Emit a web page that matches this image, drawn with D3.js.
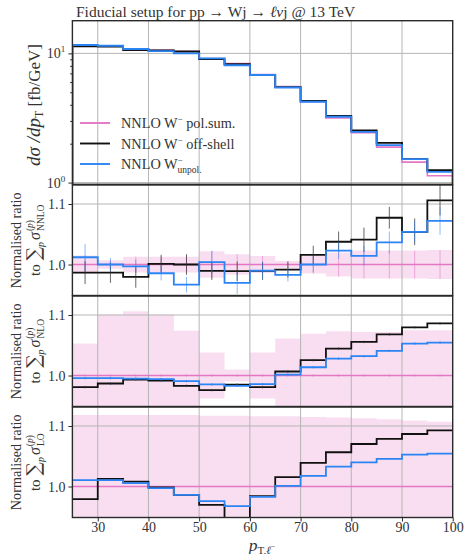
<!DOCTYPE html>
<html><head><meta charset="utf-8">
<script src="https://cdn.jsdelivr.net/npm/d3@7"></script>
<style>
html,body{margin:0;padding:0;background:#fff;}
svg{display:block;font-family:"Liberation Serif","DejaVu Serif",serif;}
</style></head><body>
<svg id="chart" width="465" height="554"></svg>
<script>
// Bin edges of the lepton transverse-momentum histogram (GeV)
const binEdges = [25, 30, 35, 40, 45, 50, 55, 60, 65, 70, 75, 80, 85, 90, 95, 100];
const xTicks = [30, 40, 50, 60, 70, 80, 90, 100];
const topTicks = [1, 10];
const topMinorTicks = [2, 3, 4, 5, 6, 7, 8, 9];
const ratioTicks = [1.0, 1.1];

// Differential cross sections dσ/dpT [fb/GeV]
const distPolSum   = [11.46, 11.45, 10.83, 10.55, 10.34, 9.11, 8.35, 6.87, 5.54, 4.22, 3.16, 2.43, 1.88, 1.44, 1.13];
const distOffShell = [11.31, 11.30, 10.61, 10.56, 10.34, 9.01, 8.26, 6.80, 5.49, 4.29, 3.28, 2.53, 2.03, 1.52, 1.25];
const distUnpol    = [11.60, 11.45, 10.80, 10.40, 10.00, 9.15, 8.10, 6.80, 5.45, 4.22, 3.23, 2.47, 1.95, 1.52, 1.21];

// Reference line (pol. sum normalised to itself)
const polSumRatio = [1, 1, 1, 1, 1, 1, 1, 1, 1, 1, 1, 1, 1, 1, 1];

// Ratios to the NNLO polarisation sum
const nnloOffShell    = [0.9867, 0.9867, 0.9796, 1.001, 1.000, 0.9895, 0.989, 0.9895, 0.9917, 1.016, 1.0376, 1.041, 1.0773, 1.054, 1.106];
const nnloUnpol       = [1.012, 1.000, 0.997, 0.9856, 0.9669, 1.004, 0.9696, 0.990, 0.983, 1.000, 1.023, 1.0144, 1.0365, 1.054, 1.072];
const nnloPolErr      = [0.015, 0.007, 0.013, 0.013, 0.013, 0.022, 0.017, 0.014, 0.006, 0.015, 0.020, 0.023, 0.023, 0.023, 0.024];
const nnloOffShellErr = [0.019, 0.017, 0.018, 0.015, 0.017, 0.015, 0.016, 0.015, 0.013, 0.015, 0.017, 0.020, 0.018, 0.022, 0.025];
const nnloUnpolErr    = [0.022, 0.011, 0.011, 0.012, 0.013, 0.019, 0.018, 0.014, 0.011, 0.013, 0.014, 0.016, 0.018, 0.017, 0.023];

// Ratios to the NLO polarisation sum
const nloOffShell = [0.9808, 0.9868, 0.9934, 0.9918, 0.983, 0.9758, 0.985, 0.9808, 1.0066, 1.0253, 1.0445, 1.0555, 1.068, 1.0797, 1.0863];
const nloUnpol    = [0.9956, 0.9956, 0.995, 0.994, 0.9907, 0.9852, 0.983, 0.9857, 1.0016, 1.0137, 1.028, 1.0319, 1.0407, 1.0527, 1.0544];
const nloPolErr   = [0.053, 0.101, 0.106, 0.101, 0.074, 0.038, 0.010, 0.038, 0.061, 0.069, 0.073, 0.072, 0.072, 0.075, 0.075];
const nloStatErr  = [0.002, 0.002, 0.002, 0.002, 0.002, 0.002, 0.002, 0.002, 0.002, 0.002, 0.002, 0.002, 0.002, 0.002, 0.002];

// Ratios to the LO polarisation sum
const loOffShell = [0.9791, 1.0126, 1.0082, 0.9984, 0.9863, 0.9698, 0.940, 0.984, 1.0154, 1.039, 1.0566, 1.0703, 1.0786, 1.0868, 1.0929];
const loUnpol    = [1.0104, 1.0104, 1.0055, 0.9973, 0.9863, 0.9758, 0.9676, 0.983, 1.001, 1.0176, 1.033, 1.040, 1.0456, 1.0527, 1.0544];
const loPolErr   = [0.118, 0.118, 0.118, 0.118, 0.118, 0.117, 0.117, 0.116, 0.116, 0.115, 0.114, 0.113, 0.111, 0.109, 0.107];

const PINK = "#e377c2", BLACK = "#111111", BLUE = "#2b84f3";
const SPINE = "#2a2a2a", GRID = "#b5b5b5", TXT = "#333";

const svg = d3.select("#chart");
const x = d3.scaleLinear().domain([25, 100]).range([72.4, 452.7]);
const topBox = { y0: 20.7, y1: 184.3 };
const yTop = d3.scaleLog().domain([0.97, 17.9]).range([topBox.y1, topBox.y0]);

const ratioTops = [185, 296, 407];
const ratioH = 110.5;
const ratioScales = ratioTops.map(t => d3.scaleLinear().domain([0.9488, 1.1314]).range([t + ratioH, t]));

function stepPoints(vals) {
  const pts = [];
  vals.forEach((v, i) => { pts.push([binEdges[i], v]); pts.push([binEdges[i + 1], v]); });
  return pts;
}
const centers = binEdges.slice(0, -1).map((e, i) => (e + binEdges[i + 1]) / 2);

function addClip(id, y0, y1) {
  svg.append("clipPath").attr("id", id).append("rect")
    .attr("x", x(25)).attr("y", y0).attr("width", x(100) - x(25)).attr("height", y1 - y0);
}

function vGrid(g, y0, y1) {
  g.selectAll(null).data(xTicks.filter(t => t < 100)).join("line")
    .attr("x1", d => x(d)).attr("x2", d => x(d)).attr("y1", y0).attr("y2", y1)
    .attr("stroke", GRID).attr("stroke-width", 1);
}
function hGrid(g, vals, y) {
  g.selectAll(null).data(vals).join("line")
    .attr("x1", x(25)).attr("x2", x(100)).attr("y1", d => y(d)).attr("y2", d => y(d))
    .attr("stroke", GRID).attr("stroke-width", 1);
}

// ---------- top panel: distributions ----------
addClip("clipTop", topBox.y0, topBox.y1);
const gTop = svg.append("g");
const gTopData = gTop.append("g").attr("clip-path", "url(#clipTop)");
vGrid(gTopData, topBox.y0, topBox.y1);
hGrid(gTopData, topTicks, yTop);

const topLine = d3.line().x(d => x(d[0])).y(d => yTop(d[1]));
[[distPolSum, PINK, 1.6], [distOffShell, BLACK, 1.8], [distUnpol, BLUE, 1.9]].forEach(([vals, col, w]) => {
  const pts = [[25, 0.5], ...stepPoints(vals), [100, 0.5]];
  gTopData.append("path").attr("d", topLine(pts)).attr("fill", "none")
    .attr("stroke", col).attr("stroke-width", w);
});

// legend
const legend = gTop.append("g");
const legendRows = [
  { col: PINK, y: 123, main: "NNLO W", sup: "\u2212", rest: " pol.sum." },
  { col: BLACK, y: 143.5, main: "NNLO W", sup: "\u2212", rest: " off-shell" },
  { col: BLUE, y: 164, main: "NNLO W", sup: "\u2212", sub: "unpol." }
];
legendRows.forEach(r => {
  legend.append("line").attr("x1", 80).attr("x2", 110).attr("y1", r.y).attr("y2", r.y)
    .attr("stroke", r.col).attr("stroke-width", 1.9);
  const t = legend.append("text").attr("x", 121).attr("y", r.y + 5).attr("font-size", 14.3).attr("fill", TXT);
  t.append("tspan").text(r.main);
  t.append("tspan").attr("font-size", 9).attr("dy", -6).text(r.sup);
  if (r.rest) t.append("tspan").attr("dy", 6).text(r.rest);
  if (r.sub) t.append("tspan").attr("font-size", 9.5).attr("dx", -5).attr("dy", 10).text(r.sub);
});

// top axis
const topAxis = gTop.append("g").attr("transform", `translate(${x(25)},0)`)
  .call(d3.axisLeft(yTop).tickValues(topTicks).tickSize(4).tickFormat(""));
const topMinor = gTop.append("g").attr("transform", `translate(${x(25)},0)`)
  .call(d3.axisLeft(yTop).tickValues(topMinorTicks).tickSize(2.2).tickFormat(""));
[topAxis, topMinor].forEach(a => { a.select(".domain").remove(); a.selectAll("line").attr("stroke", SPINE); });
topTicks.forEach(v => {
  const t = gTop.append("text").attr("x", 56).attr("y", yTop(v) + 5).attr("font-size", 14)
    .attr("text-anchor", "middle").attr("fill", TXT);
  t.append("tspan").text("10");
  t.append("tspan").attr("font-size", 9).attr("dy", -6).text(Math.round(Math.log10(v)));
});
gTop.append("rect").attr("x", x(25)).attr("y", topBox.y0).attr("width", x(100) - x(25))
  .attr("height", topBox.y1 - topBox.y0).attr("fill", "none").attr("stroke", SPINE).attr("stroke-width", 1.4);

// top y label
const yl = svg.append("text").attr("transform", `translate(40,105) rotate(-90)`)
  .attr("text-anchor", "middle").attr("font-size", 19).attr("fill", TXT);
yl.append("tspan").attr("font-style", "italic").text("d\u03C3 /dp");
yl.append("tspan").attr("font-size", 12).attr("dy", 3).text("T");
yl.append("tspan").attr("dy", -3).attr("font-size", 17).text(" [fb/GeV]");

// title
const title = svg.append("text").attr("x", 76).attr("y", 17).attr("font-size", 15.5).attr("fill", TXT);
title.append("tspan").text("Fiducial setup for pp \u2192 Wj \u2192 ");
title.append("tspan").attr("font-style", "italic").text("\u2113\u03BD");
title.append("tspan").text("j @ 13 TeV");

// ---------- ratio panels ----------
const panels = [
  { off: nnloOffShell, unpol: nnloUnpol, band: nnloPolErr, offErr: nnloOffShellErr, unpolErr: nnloUnpolErr, polErr: nnloPolErr, order: "NNLO", big: true },
  { off: nloOffShell, unpol: nloUnpol, band: nloPolErr, offErr: nloStatErr, unpolErr: nloStatErr, polErr: nloStatErr, order: "NLO" },
  { off: loOffShell, unpol: loUnpol, band: loPolErr, offErr: null, unpolErr: null, polErr: null, order: "LO" }
];

panels.forEach((p, i) => {
  const top = ratioTops[i], bot = top + ratioH;
  const y = ratioScales[i];
  const cid = "clipR" + i;
  addClip(cid, top, bot);
  const g = svg.append("g");
  const gd = g.append("g").attr("clip-path", `url(#${cid})`);

  const bandArea = d3.area().x(d => x(d[0])).y0(d => y(1 - d[1])).y1(d => y(1 + d[1]));
  gd.append("path").attr("d", bandArea(stepPoints(p.band))).attr("fill", PINK).attr("fill-opacity", 0.24);

  vGrid(gd, top, bot);
  hGrid(gd, ratioTicks, y);

  const line = d3.line().x(d => x(d[0])).y(d => y(d[1]));
  const errBars = (vals, errs, col, op, w) => {
    if (!errs) return;
    gd.selectAll(null).data(vals.map((v, k) => [centers[k], v, errs[k]])).join("line")
      .attr("x1", d => x(d[0])).attr("x2", d => x(d[0]))
      .attr("y1", d => y(d[1] - d[2])).attr("y2", d => y(d[1] + d[2]))
      .attr("stroke", col).attr("stroke-opacity", op).attr("stroke-width", w);
  };

  gd.append("path").attr("d", line(stepPoints(polSumRatio))).attr("fill", "none").attr("stroke", PINK).attr("stroke-width", 1.4);
  errBars(polSumRatio, p.polErr, PINK, p.big ? 0.55 : 0.6, 1);
  gd.append("path").attr("d", line(stepPoints(p.off))).attr("fill", "none").attr("stroke", BLACK).attr("stroke-width", 1.8);
  errBars(p.off, p.offErr, "#333", p.big ? 0.75 : 0.8, 1);
  gd.append("path").attr("d", line(stepPoints(p.unpol))).attr("fill", "none").attr("stroke", BLUE).attr("stroke-width", 1.8);
  errBars(p.unpol, p.unpolErr, BLUE, p.big ? 0.55 : 0.8, 1);

  const ax = g.append("g").attr("transform", `translate(${x(25)},0)`)
    .call(d3.axisLeft(y).tickValues(ratioTicks).tickSize(4).tickPadding(3).tickFormat(d3.format(".1f")));
  ax.select(".domain").remove();
  ax.selectAll("line").attr("stroke", SPINE);
  ax.selectAll("text").attr("font-family", "Liberation Serif").attr("font-size", 14).attr("fill", TXT);

  g.append("rect").attr("x", x(25)).attr("y", top).attr("width", x(100) - x(25)).attr("height", ratioH)
    .attr("fill", "none").attr("stroke", SPINE).attr("stroke-width", 1.4);

  // y label, two lines
  const cy = top + ratioH / 2;
  svg.append("text").attr("transform", `translate(20.5,${cy}) rotate(-90)`).attr("text-anchor", "middle")
    .attr("font-size", 14.2).attr("fill", TXT).text("Normalised ratio");
  const t2 = svg.append("text").attr("transform", `translate(40,${cy}) rotate(-90)`).attr("text-anchor", "middle")
    .attr("font-size", 15).attr("fill", TXT);
  t2.append("tspan").text("to ");
  t2.append("tspan").attr("font-size", 19).attr("font-family", "DejaVu Serif").text("\u2211");
  t2.append("tspan").attr("font-size", 10).attr("font-style", "italic").attr("dy", 4).text("p");
  t2.append("tspan").attr("dy", -4).attr("dx", 2).attr("font-size", 16).attr("font-style", "italic").text("\u03C3");
  t2.append("tspan").attr("font-size", 9.5).attr("dy", -7).attr("dx", 1).text("(");
  t2.append("tspan").attr("font-size", 9.5).attr("font-style", "italic").text("p");
  t2.append("tspan").attr("font-size", 9.5).text(")");
  t2.append("tspan").attr("font-size", 9.5).attr("dx", -11).attr("dy", 11).text(p.order);
});

// bottom x axis
const xAxis = svg.append("g").attr("transform", `translate(0,${ratioTops[2] + ratioH})`)
  .call(d3.axisBottom(x).tickValues(xTicks).tickSize(4).tickPadding(1).tickFormat(d3.format("d")));
xAxis.select(".domain").remove();
xAxis.selectAll("line").attr("stroke", SPINE);
xAxis.selectAll("text").attr("font-family", "Liberation Serif").attr("font-size", 14).attr("fill", TXT);

// x label
const xl = svg.append("text").attr("x", 262).attr("y", 550.5).attr("text-anchor", "middle")
  .attr("font-size", 17.5).attr("fill", TXT);
xl.append("tspan").attr("font-style", "italic").text("p");
xl.append("tspan").attr("font-size", 11).attr("dy", 3).text("T,");
xl.append("tspan").attr("font-size", 11).attr("font-style", "italic").text("\u2113");
xl.append("tspan").attr("font-size", 8).attr("dy", -5).text("\u2212");
</script>
</body></html>
